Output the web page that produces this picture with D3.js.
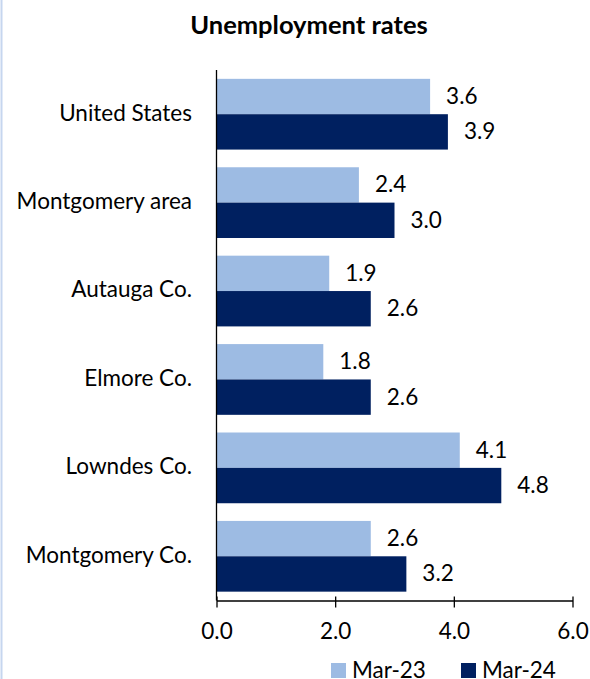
<!DOCTYPE html>
<html>
<head>
<meta charset="utf-8">
<script src="https://cdn.jsdelivr.net/npm/d3@7"></script>
<style>
  body { margin: 0; background: #fff; }
  svg { display: block; font-family: Lato, "Open Sans", sans-serif; }
</style>
</head>
<body>
<svg width="590" height="679"></svg>
<script>
var categories = ["United States", "Montgomery area", "Autauga Co.", "Elmore Co.", "Lowndes Co.", "Montgomery Co."];
var mar23 = [3.6, 2.4, 1.9, 1.8, 4.1, 2.6];
var mar24 = [3.9, 3.0, 2.6, 2.6, 4.8, 3.2];
var seriesNames = ["Mar-23", "Mar-24"];
var xTicks = [0, 2, 4, 6];

var svg = d3.select("svg"),
    width = +svg.attr("width"),
    height = +svg.attr("height");

var colors = ["#9dbbe3", "#002060"];
var fs = 22.5;

// faint frame edge on the left
svg.append("line")
    .attr("x1", 1.5).attr("x2", 1.5)
    .attr("y1", 0).attr("y2", height)
    .attr("stroke", "#c6d6ef")
    .attr("stroke-width", 2);

svg.append("text")
    .attr("x", 309)
    .attr("y", 34)
    .attr("text-anchor", "middle")
    .attr("font-weight", "bold")
    .attr("font-size", 25.5)
    .text("Unemployment rates");

var x = d3.scaleLinear()
    .domain([0, 6])
    .range([216.5, 572.5]);

var y = d3.scaleBand()
    .domain(categories)
    .range([70, 600.5])
    .paddingInner(0.2)
    .paddingOuter(0.1);

var sub = d3.scaleBand()
    .domain(seriesNames)
    .range([0, y.bandwidth()]);

var rows = categories.map((c, i) => ({ cat: c, vals: [mar23[i], mar24[i]] }));

var g = svg.append("g");

var grp = g.selectAll(".grp")
    .data(rows)
    .enter().append("g")
    .attr("transform", d => "translate(0," + y(d.cat) + ")");

grp.selectAll("rect")
    .data(d => d.vals.map((v, j) => ({ v: v, s: seriesNames[j], j: j })))
    .enter().append("rect")
    .attr("x", x(0))
    .attr("y", d => sub(d.s))
    .attr("width", d => x(d.v) - x(0))
    .attr("height", sub.bandwidth())
    .attr("fill", d => colors[d.j]);

grp.selectAll(".val")
    .data(d => d.vals.map((v, j) => ({ v: v, s: seriesNames[j] })))
    .enter().append("text")
    .attr("class", "val")
    .attr("x", d => x(d.v) + 16)
    .attr("y", d => sub(d.s) + sub.bandwidth() / 2)
    .attr("dy", "0.33em")
    .attr("font-size", fs)
    .attr("fill", "#000")
    .text(d => d.v.toFixed(1));

// category labels
g.selectAll(".cat")
    .data(categories)
    .enter().append("text")
    .attr("class", "cat")
    .attr("x", 192)
    .attr("y", d => y(d) + y.bandwidth() / 2)
    .attr("dy", "0.28em")
    .attr("text-anchor", "end")
    .attr("font-size", fs)
    .text(d => d);

// y axis line
svg.append("line")
    .attr("x1", x(0)).attr("x2", x(0))
    .attr("y1", 70).attr("y2", 600.5)
    .attr("stroke", "#000")
    .attr("stroke-width", 1.3);

var xAxis = d3.axisBottom(x)
    .tickValues(xTicks)
    .tickFormat(d3.format(".1f"))
    .tickSizeInner(7)
    .tickSizeOuter(0)
    .tickPadding(16);

var gX = svg.append("g")
    .attr("transform", "translate(0,600.5)")
    .call(xAxis);

gX.select(".domain").attr("stroke", "#000").attr("stroke-width", 1.3);
gX.selectAll(".tick line").attr("stroke", "#000").attr("stroke-width", 1.3).attr("y1", -4);
gX.selectAll(".tick text")
    .attr("font-size", fs)
    .attr("font-family", "Lato, 'Open Sans', sans-serif")
    .attr("fill", "#000");

// legend
var legX = [331, 461];
var leg = svg.selectAll(".leg")
    .data(seriesNames)
    .enter().append("g")
    .attr("transform", (d, i) => "translate(" + legX[i] + ",663)");

leg.append("rect")
    .attr("width", 15)
    .attr("height", 15)
    .attr("fill", (d, i) => colors[i]);

leg.append("text")
    .attr("x", 21)
    .attr("y", 15)
    .attr("font-size", fs)
    .text(d => d);
</script>
</body>
</html>
